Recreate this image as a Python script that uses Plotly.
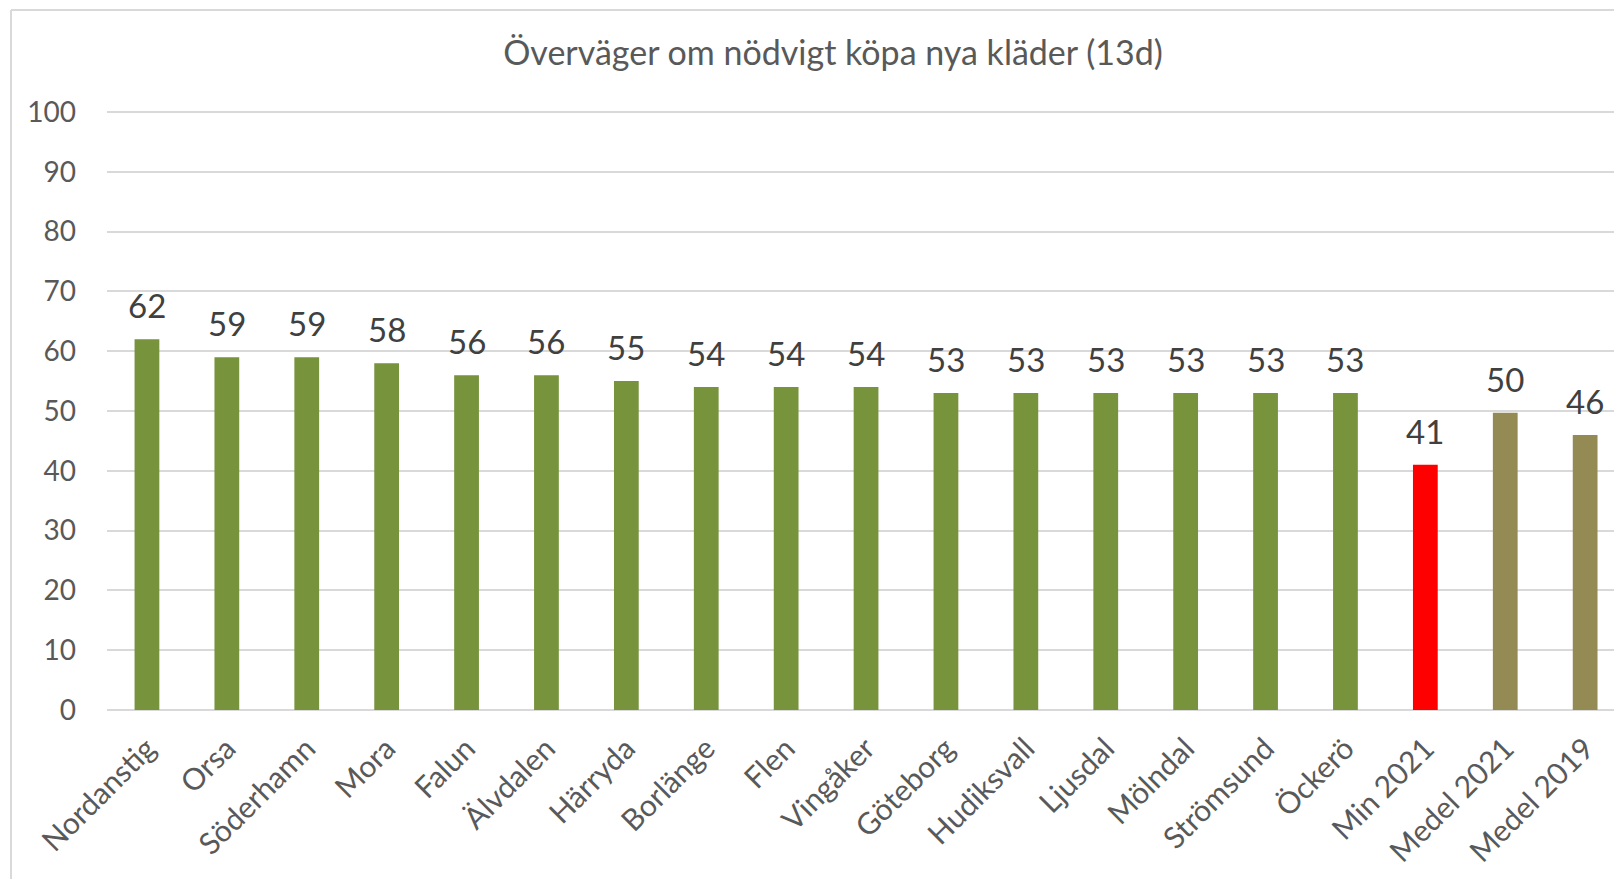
import plotly.graph_objects as go

categories = ["Nordanstig", "Orsa", "Söderhamn", "Mora", "Falun", "Älvdalen", "Härryda",
              "Borlänge", "Flen", "Vingåker", "Göteborg", "Hudiksvall", "Ljusdal", "Mölndal",
              "Strömsund", "Öckerö", "Min 2021", "Medel 2021", "Medel 2019"]
values = [62, 59, 59, 58, 56, 56, 55, 54, 54, 54, 53, 53, 53, 53, 53, 53, 41, 49.7, 46]
labels = ["62", "59", "59", "58", "56", "56", "55", "54", "54", "54", "53", "53", "53", "53",
          "53", "53", "41", "50", "46"]
colors = ["#77933C"] * 16 + ["#FF0000", "#948A54", "#948A54"]

title = "Överväger om nödvigt köpa nya kläder (13d)"

W, H = 1614, 879
ml, mr, mt, mb = 107, 0, 111, 169

fig = go.Figure()
fig.add_trace(go.Bar(
    x=list(range(len(categories))), y=values,
    marker=dict(color=colors, line=dict(width=0)),
    width=0.31, hoverinfo="skip",
))

for i, (v, t) in enumerate(zip(values, labels)):
    fig.add_annotation(x=i, y=v, text=t, showarrow=False, yanchor="bottom",
                       yshift=12, font=dict(family="Lato", size=33, color="#404040"))

px_per_unit = 79.9
xmax = -0.5 + (W - ml - mr) / px_per_unit

fig.update_layout(
    width=W, height=H,
    margin=dict(l=ml, r=mr, t=mt, b=mb, autoexpand=False),
    paper_bgcolor="white", plot_bgcolor="white",
    showlegend=False,
    title=dict(text=title, x=833 / W, xref="container", xanchor="center",
               y=1 - 53 / H, yref="container", yanchor="middle",
               font=dict(family="Lato", size=34, color="#595959")),
    xaxis=dict(range=[-0.5, xmax], tickmode="array", tickvals=list(range(len(categories))),
               ticktext=categories, tickangle=-45, showgrid=False, zeroline=False,
               showline=False, ticks="", ticklabelstandoff=14,
               tickfont=dict(family="Lato", size=30, color="#595959")),
    yaxis=dict(range=[0, 100.17], dtick=10, showgrid=True, gridcolor="#D9D9D9", gridwidth=1.5,
               zeroline=True, zerolinecolor="#D9D9D9", zerolinewidth=1.5, showline=False,
               ticks="", ticklabelstandoff=30,
               tickfont=dict(family="Lato", size=28, color="#595959")),
)

bx = (11 - ml) / (W - ml - mr)
by = (H - mb - 10) / (H - mb - mt)
fig.add_shape(type="line", xref="paper", yref="paper", x0=bx, y0=by, x1=1.01, y1=by,
              line=dict(color="#D9D9D9", width=2))
fig.add_shape(type="line", xref="paper", yref="paper", x0=bx, y0=by, x1=bx, y1=-0.5,
              line=dict(color="#D9D9D9", width=2))

fig.write_html("out.html", config={"displayModeBar": False},
               post_script="document.body.style.margin='0';")
